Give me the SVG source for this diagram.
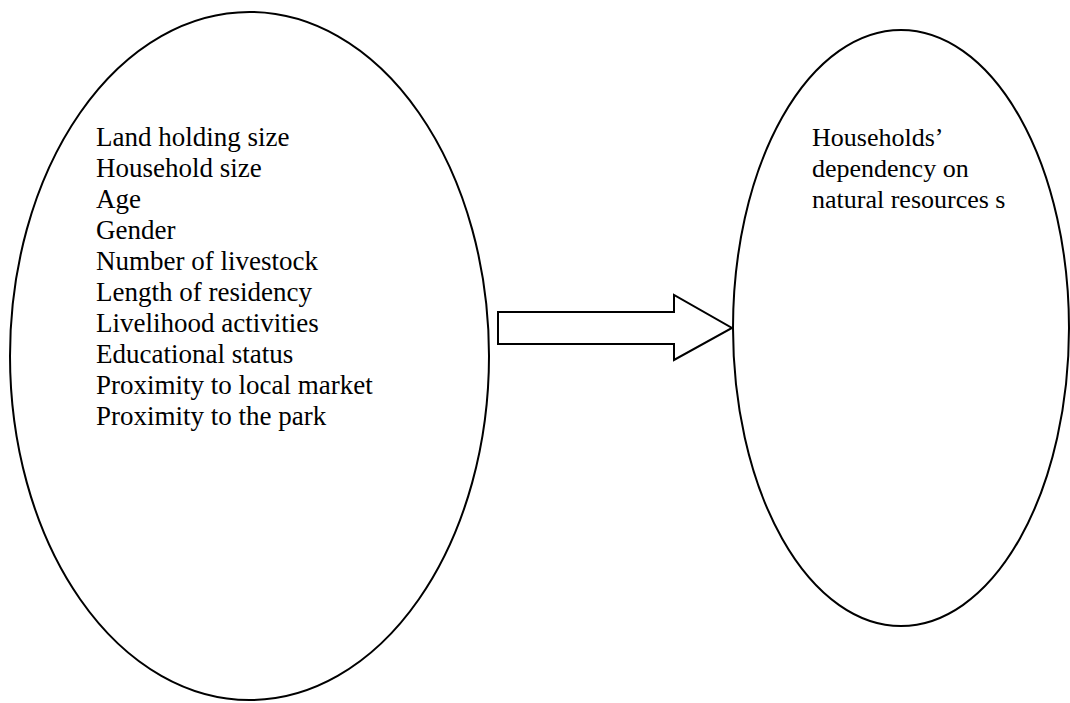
<svg xmlns="http://www.w3.org/2000/svg" width="1070" height="703" viewBox="0 0 1070 703">
  <style>
    .shape { fill: #ffffff; stroke: #000000; stroke-width: 2; }
    .label { font-family: "Liberation Serif", "Times New Roman", serif; font-size: 27px; fill: #000000; }
    .label-sm { font-family: "Liberation Serif", "Times New Roman", serif; font-size: 26px; fill: #000000; }
  </style>
  <rect x="0" y="0" width="1070" height="703" fill="#ffffff"/>
  <g id="node-factors">
    <ellipse class="shape" cx="249.5" cy="356" rx="239.5" ry="344"/>
    <text class="label" x="96" y="146">
      <tspan x="96" y="146">Land holding size</tspan>
      <tspan x="96" y="177">Household size</tspan>
      <tspan x="96" y="208">Age</tspan>
      <tspan x="96" y="239">Gender</tspan>
      <tspan x="96" y="270">Number of livestock</tspan>
      <tspan x="96" y="301">Length of residency</tspan>
      <tspan x="96" y="332">Livelihood activities</tspan>
      <tspan x="96" y="363">Educational status</tspan>
      <tspan x="96" y="394">Proximity to local market</tspan>
      <tspan x="96" y="425">Proximity to the park</tspan>
    </text>
  </g>
  <g id="node-dependency">
    <ellipse class="shape" cx="901" cy="328" rx="168" ry="298"/>
    <text class="label-sm" x="812" y="146">
      <tspan x="812" y="146">Households’</tspan>
      <tspan x="812" y="177">dependency on</tspan>
      <tspan x="812" y="208">natural resources s</tspan>
    </text>
  </g>
  <g id="connectors">
    <polygon class="shape" points="498,312 674,312 674,295 732,328 674,360 674,344 498,344"/>
  </g>
</svg>
